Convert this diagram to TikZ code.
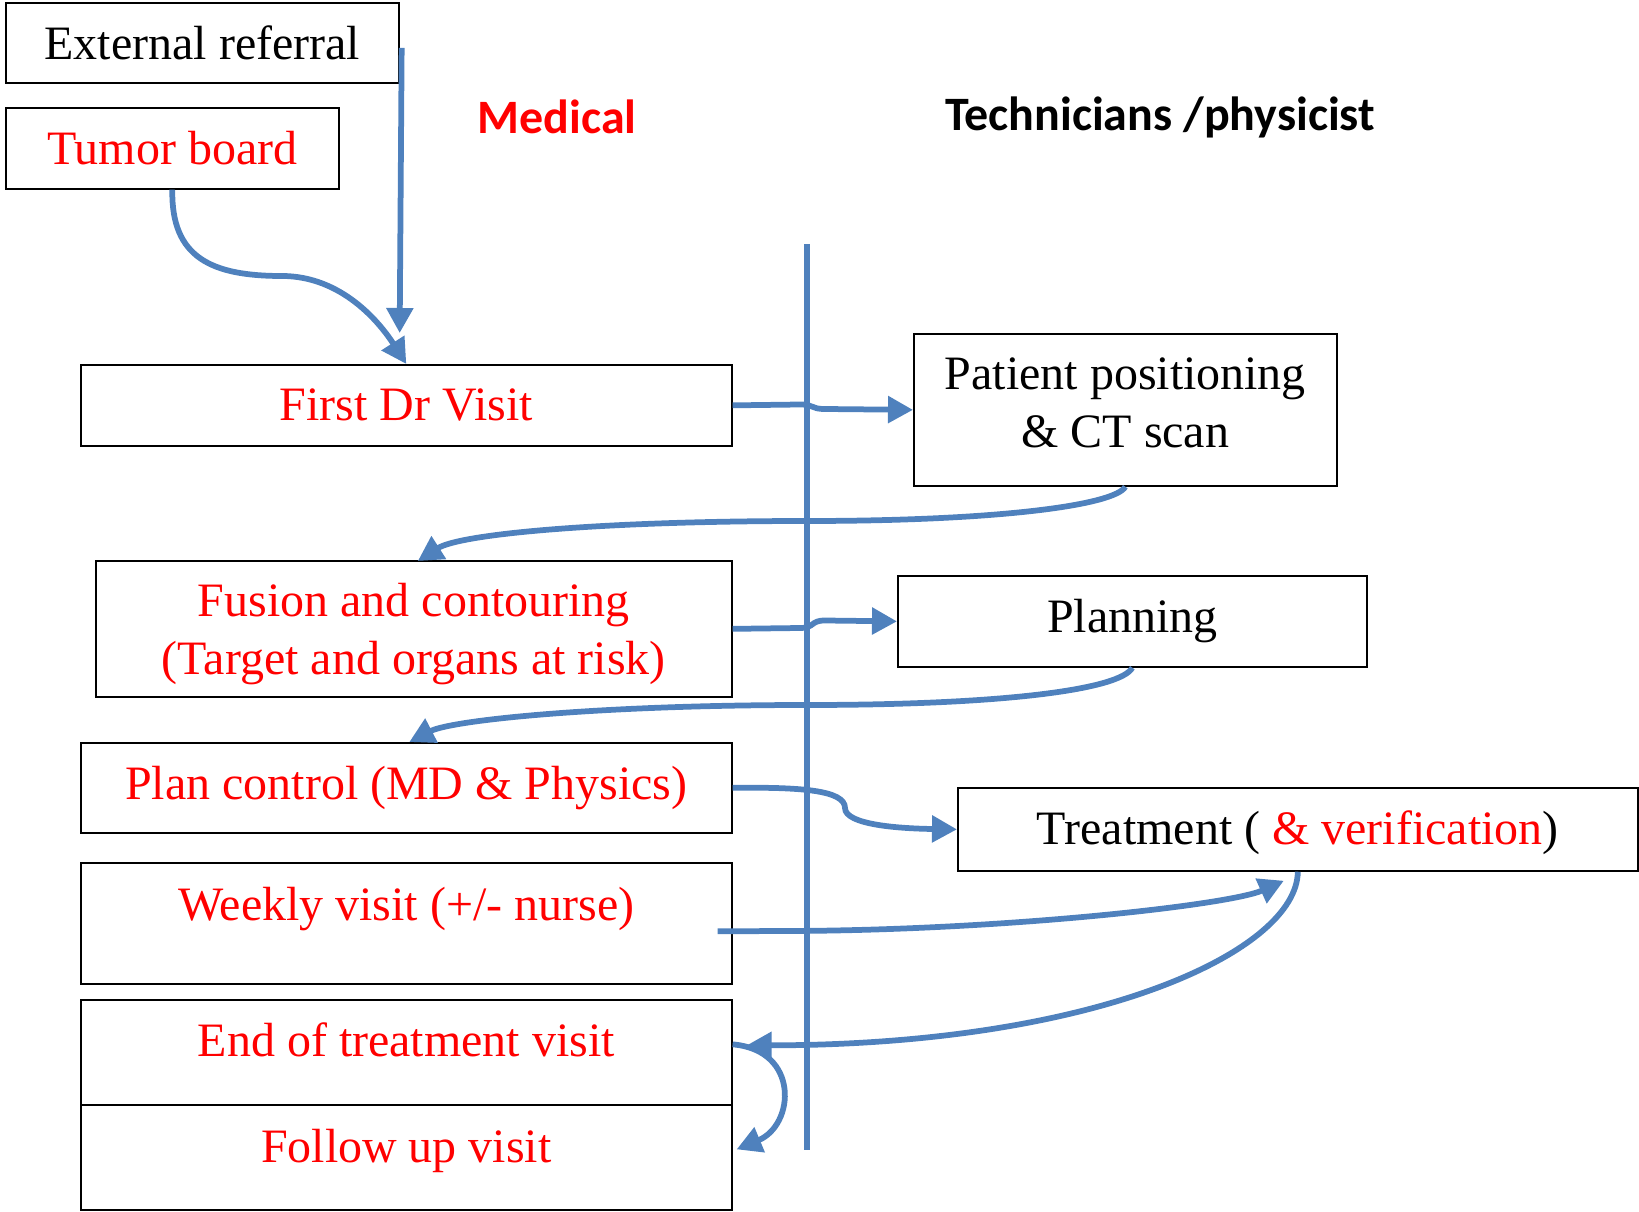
\documentclass[tikz,border=0pt]{standalone}
\usepackage{fontspec}
\setmainfont{Liberation Serif}
\newfontfamily\headfont{Carlito}
\usetikzlibrary{positioning,calc,arrows.meta}
\definecolor{flowblue}{RGB}{79,129,189}

\begin{document}
\begin{tikzpicture}[x=0.02cm,y=-0.02cm,
  box/.style={draw,line width=0.035cm,anchor=north west,inner sep=0pt,align=center,
    font=\fontsize{27.3}{33}\selectfont},
  txt/.style={inner sep=0pt,align=center,font=\fontsize{27.3}{33}\selectfont},
  head/.style={inner sep=0pt,font=\headfont\bfseries\fontsize{27.3}{33}\selectfont},
  flow/.style={draw=flowblue,line width=0.115cm,-{Triangle[length=0.5cm,width=0.52cm]}},
  divider/.style={draw=flowblue,line width=0.12cm}]
  \useasboundingbox (0,0) rectangle (1639,1212);
  % Entry boxes
  \node[box,minimum width=7.86cm,minimum height=1.6cm] (ext) at (5,2) {External referral};
  \node[box,text=red,minimum width=6.66cm,minimum height=1.62cm] (tb) at (5,107) {Tumor board};
  % Headings
  \node[head,text=red] (med) at (557,117) {Medical};
  \node[head] (tech) at (1160,117) {Technicians /physicist};
  % Medical column
  \node[box,text=red,minimum width=13.02cm,minimum height=1.62cm] (first) at (80,364) {First Dr Visit};
  \node[box,minimum width=12.72cm,minimum height=2.72cm] (fusion) at (95,560) {};
  \node[txt,text=red] (fusiontext) at ($(fusion.center)+(0,5)$) {Fusion and contouring\\(Target and organs at risk)};
  \node[box,text=red,minimum width=13.02cm,minimum height=1.8cm] (pc) at (80,742) {Plan control (MD \& Physics)};
  \node[box,minimum width=13.02cm,minimum height=2.42cm] (wk) at (80,862) {};
  \node[txt,text=red] (wktext) at ($(wk.north)+(0,47)$) {Weekly visit (+/- nurse)};
  \node[box,minimum width=13.02cm,minimum height=2.1cm] (end) at (80,999) {};
  \node[txt,text=red] (endtext) at ($(end.north)+(0,41)$) {End of treatment visit};
  \node[box,minimum width=13.02cm,minimum height=2.1cm] (fu) at (80,1104) {};
  \node[txt,text=red] (futext) at ($(fu.north)+(0,47)$) {Follow up visit};
  % Technicians column
  \node[box,minimum width=8.46cm,minimum height=3.04cm] (pp) at (913,333) {};
  \node[txt] (pptext) at ($(pp.center)+(0,-7)$) {Patient positioning\\\& CT scan};
  \node[box,minimum width=9.38cm,minimum height=1.82cm] (plan) at (897,575) {Planning};
  \node[box,minimum width=13.6cm,minimum height=1.66cm] (tr) at (957,787) {};
  \node[txt] (trtext) at ($(tr.center)+(0,3)$) {Treatment ( {\color{red}\& verification})};
  % Divider
  \coordinate (divtop) at (807,244);
  \coordinate (divbot) at (807,1150);
  \draw[divider] (divtop) -- (divbot);
  % Arrows into first visit
  \draw[flow] ($(ext.east)+(2,5)$) -- ($(ext.east |- first.north)+(0,-31)$);
  \draw[flow] (tb.south) .. controls (171,258) and (212,276) .. (282,276)
    .. controls (342,276) and (380,323) .. (first.north);
  % Back and forth between the columns
  \draw[flow] (first.east) -- (800,404.5) .. controls (815,404.5) and (810,409) .. (825,409) -- (pp.west);
  \draw[flow] (pp.south) .. controls (1115,505) and (1000,521) .. (807,521)
    .. controls (600,521) and (460,534) .. ($(fusion.north)+(4,1)$);
  \draw[flow] (fusion.east) -- (800,628) .. controls (815,628) and (810,620.5) .. (825,620.5) -- (plan.west);
  \draw[flow] (plan.south) .. controls (1120,690) and (1000,705) .. (807,705)
    .. controls (600,705) and (452,720) .. ($(pc.north)+(3,0)$);
  \draw[flow] (pc.east) .. controls (800,787) and (845,790) .. (845,808)
    .. controls (845,825) and (900,828.5) .. (tr.west);
  \draw[flow] ($(wk.east)+(-15,8)$) -- (780,931) .. controls (1000,931) and (1230,905) .. ($(tr.south)+(-14,9)$);
  \draw[flow] (tr.south) .. controls (1297,950) and (1100,1045) .. ($(end.east)+(14,-7)$);
  \draw[flow] ($(end.east)+(0,-8)$) .. controls (800,1050) and (795,1125) .. ($(fu.east)+(4,-8)$);
\end{tikzpicture}
\end{document}
